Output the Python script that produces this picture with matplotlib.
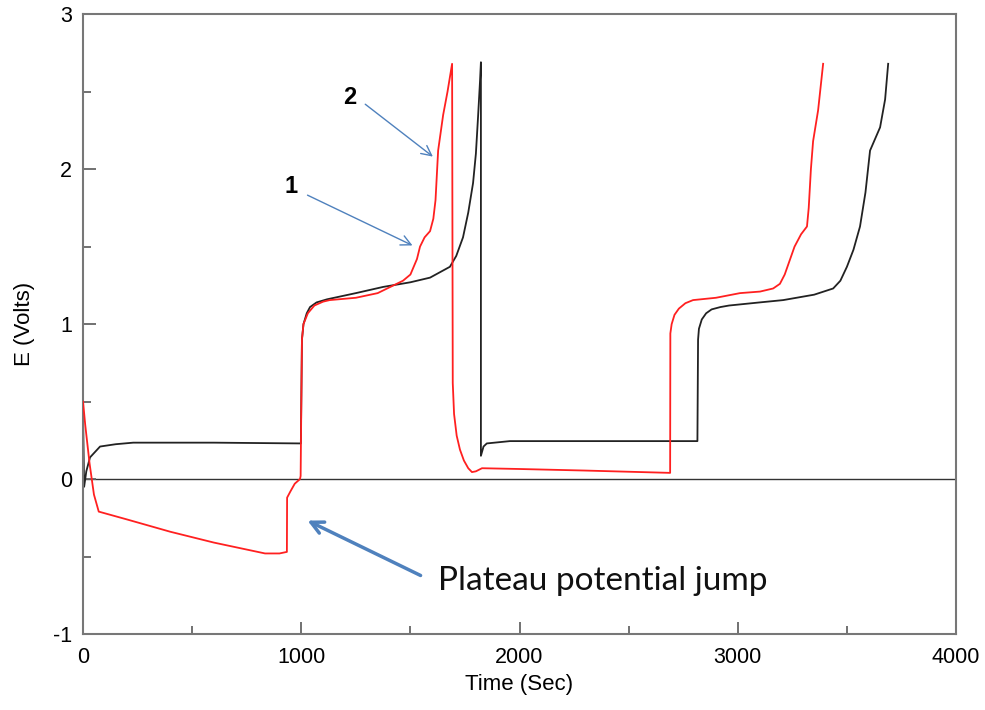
import matplotlib
matplotlib.use("Agg")
import matplotlib.pyplot as plt
from matplotlib.ticker import MultipleLocator

# curve 1 (black)
t_black = [0, 5, 15, 32, 78, 150, 230, 600, 998, 1003, 1010, 1025, 1040, 1070,
           1118, 1250, 1375, 1500, 1590, 1681, 1710, 1741, 1765, 1787, 1800,
           1810, 1819, 1823, 1823, 1835, 1850, 1956, 2400, 2815, 2818, 2822,
           2835, 2855, 2880, 2920, 2960, 3100, 3208, 3350, 3437, 3470, 3500,
           3530, 3560, 3585, 3606, 3652, 3675, 3689]
e_black = [0.42, -0.05, 0.05, 0.14, 0.21, 0.225, 0.235, 0.235, 0.23, 0.9, 1.0,
           1.07, 1.11, 1.14, 1.16, 1.2, 1.24, 1.27, 1.3, 1.37, 1.44, 1.56, 1.72,
           1.91, 2.1, 2.34, 2.57, 2.69, 0.15, 0.21, 0.23, 0.245, 0.245, 0.245,
           0.9, 0.97, 1.03, 1.07, 1.095, 1.11, 1.12, 1.14, 1.155, 1.19, 1.23,
           1.28, 1.37, 1.48, 1.63, 1.85, 2.12, 2.27, 2.45, 2.68]

# curve 2 (red)
t_red = [0, 10, 30, 50, 72, 200, 400, 600, 834, 900, 934, 935, 950, 970, 994,
         997, 1003, 1010, 1030, 1060, 1100, 1130, 1250, 1350, 1466, 1500, 1530,
         1544, 1565, 1590, 1605, 1615, 1627, 1650, 1670, 1691, 1694, 1700, 1712,
         1727, 1745, 1765, 1782, 1800, 1828, 2000, 2300, 2690, 2691, 2697, 2710,
         2730, 2760, 2795, 2900, 3010, 3102, 3162, 3193, 3215, 3240, 3260, 3290,
         3317, 3325, 3335, 3345, 3368, 3391]
e_red = [0.5, 0.35, 0.1, -0.1, -0.21, -0.26, -0.34, -0.41, -0.48, -0.48, -0.47,
         -0.12, -0.08, -0.03, 0.0, 0.02, 0.9, 1.0, 1.07, 1.12, 1.145, 1.155,
         1.17, 1.2, 1.28, 1.32, 1.42, 1.5, 1.56, 1.6, 1.68, 1.8, 2.12, 2.35, 2.5,
         2.68, 0.62, 0.42, 0.28, 0.19, 0.12, 0.07, 0.045, 0.05, 0.07, 0.065,
         0.055, 0.04, 0.94, 1.0, 1.06, 1.1, 1.135, 1.155, 1.17, 1.2, 1.21, 1.23,
         1.26, 1.32, 1.42, 1.5, 1.58, 1.63, 1.75, 2.0, 2.18, 2.38, 2.68]

x_ticks = [0, 1000, 2000, 3000, 4000]
y_ticks = [-1, 0, 1, 2, 3]

plt.rcParams['font.family'] = ['Liberation Sans', 'DejaVu Sans']
plt.rcParams['axes.unicode_minus'] = False

fig = plt.figure(figsize=(9.85, 7.1), dpi=100)
ax = fig.add_axes([0.0843, 0.107, 0.8863, 0.873])

ax.axhline(0, color='#333333', lw=1.0, zorder=1)
ax.plot(t_black, e_black, color='#222222', lw=1.3, zorder=2)
ax.plot(t_red, e_red, color='#ff2020', lw=1.3, zorder=3)

ax.set_xlim(0, 4000)
ax.set_ylim(-1, 3)
ax.set_xticks(x_ticks)
ax.set_yticks(y_ticks)
ax.xaxis.set_minor_locator(MultipleLocator(500))
ax.yaxis.set_minor_locator(MultipleLocator(0.5))
ax.tick_params(which='major', direction='in', length=9, width=1.3,
               color='#666666', labelsize=15.5)
ax.tick_params(which='minor', direction='in', length=5.5, width=1.3,
               color='#666666')
ax.tick_params(axis='x', pad=9)
ax.tick_params(axis='y', pad=8)
for s in ax.spines.values():
    s.set_color('#777777')
    s.set_linewidth(1.5)

ax.set_xlabel('Time (Sec)', fontsize=16, labelpad=5)
ax.set_ylabel('E (Volts)', fontsize=16, labelpad=13)

blue = '#4f81bd'
ax.text(953, 1.89, '1', fontsize=17, fontweight='bold', ha='center', va='center')
ax.annotate('', xy=(1521, 1.50), xytext=(1017, 1.84),
            arrowprops=dict(arrowstyle='->', color=blue, lw=1.0,
                            mutation_scale=18))
ax.text(1223, 2.46, '2', fontsize=17, fontweight='bold', ha='center', va='center')
ax.annotate('', xy=(1613, 2.07), xytext=(1283, 2.43),
            arrowprops=dict(arrowstyle='->', color=blue, lw=1.0,
                            mutation_scale=18))
ax.annotate('', xy=(1017, -0.26), xytext=(1558, -0.63),
            arrowprops=dict(arrowstyle='->', color=blue, lw=2.5,
                            mutation_scale=22))
ax.text(1627, -0.66, 'Plateau potential jump', fontsize=24, family='Lato',
        ha='left', va='center', color='#111111')

fig.savefig('out.png', dpi=100)
